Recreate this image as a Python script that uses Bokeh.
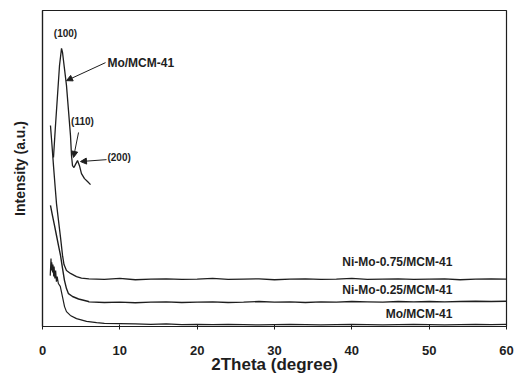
from bokeh.plotting import figure
from bokeh.models import Range1d, FixedTicker, Arrow, NormalHead, Label
from bokeh.embed import file_html
from bokeh.resources import INLINE

# ---- data (2Theta in degrees, intensity in arbitrary units) ----
x_tick_values = [0, 10, 20, 30, 40, 50, 60]

flat_x = [6, 8, 10, 12, 14, 16, 18, 20, 22, 24, 26, 28, 30, 32, 34, 36, 38, 40,
          42, 44, 46, 48, 50, 52, 54, 56, 58, 60]

nimo075_head_x = [1.03, 1.23, 1.42, 1.62, 1.81, 2.07, 2.33, 2.59, 2.78, 3.10, 3.62, 4.40, 5.04]
nimo075_head_y = [63.6, 57.3, 50.9, 44.6, 38.9, 33.5, 28.2, 22.5, 19.6, 17.7, 16.8, 15.8, 15.3]
nimo075_flat_y = [15.1, 14.9, 15.2, 14.8, 15.0, 15.1, 14.9, 15.0, 15.2, 14.9, 15.0, 15.1, 14.8, 15.0,
                  15.1, 14.9, 15.0, 15.2, 14.9, 15.0, 15.1, 14.9, 15.0, 15.1, 14.8, 15.0, 15.1, 15.0]

nimo025_head_x = [1.03, 1.29, 1.55, 1.81, 2.07, 2.33, 2.59, 2.84, 3.10, 3.36, 3.88, 4.66, 5.95]
nimo025_head_y = [38.3, 35.1, 32.0, 28.8, 25.6, 22.5, 18.4, 14.6, 12.0, 10.4, 9.5, 8.7, 7.9]
nimo025_flat_y = [7.8, 7.6, 7.7, 7.5, 7.7, 7.8, 7.6, 7.7, 7.8, 7.6, 7.7, 7.9, 7.7, 7.8,
                  7.6, 7.8, 7.7, 7.9, 7.8, 7.7, 7.9, 7.8, 7.9, 7.8, 7.9, 8.0, 7.9, 8.0]

mo_head_x = [1.00, 1.10, 1.15, 1.20, 1.30, 1.35, 1.45, 1.50, 1.60, 1.70, 1.80, 1.90, 2.05,
             2.30, 2.60, 2.85, 3.10, 3.60, 4.40, 5.70]
mo_head_y = [16.1, 21.5, 17.7, 20.3, 17.1, 19.6, 15.8, 19.0, 15.2, 17.7, 14.2, 15.8, 13.6,
             12.7, 9.2, 6.3, 4.7, 3.5, 2.5, 1.6]
mo_flat_y = [1.2, 1.0, 0.9, 0.8, 0.7, 0.8, 0.6, 0.7, 0.6, 0.7, 0.6, 0.5, 0.6, 0.7,
             0.6, 0.5, 0.6, 0.7, 0.6, 0.5, 0.6, 0.7, 0.6, 0.5, 0.6, 0.7, 0.6, 0.7]

# small-angle pattern of Mo/MCM-41 with (100), (110), (200) reflections
mo_sa_x = [1.42, 1.68, 1.94, 2.20, 2.46, 2.59, 2.84, 3.10, 3.36, 3.62, 3.75, 3.88, 4.07,
           4.27, 4.53, 4.78, 5.04, 5.43, 5.82, 6.21]
mo_sa_y = [53.5, 63.6, 73.1, 82.6, 88.0, 86.7, 81.6, 76.3, 68.4, 60.4, 54.1, 50.9, 50.3,
           51.3, 52.5, 50.9, 48.4, 46.8, 45.9, 44.9]

series_names = ["Ni-Mo-0.75/MCM-41", "Ni-Mo-0.25/MCM-41", "Mo/MCM-41"]
series_label_x = [53.0, 53.0, 53.0]
series_label_y = [20.3, 11.4, 4.1]

peak_labels = ["(100)", "(110)", "(200)"]
peak_label_x = [2.97, 5.17, 8.4]
peak_label_y = [92.7, 64.9, 53.5]
peak_label_align = ["center", "center", "left"]

# arrows: (x_start, y_start) -> (x_end, y_end)
arrow_x_start = [8.15, 4.66, 8.28]
arrow_y_start = [83.5, 61.4, 52.8]
arrow_x_end = [3.10, 4.01, 4.91]
arrow_y_end = [77.8, 53.5, 52.2]

sa_label = "Mo/MCM-41"
sa_label_x = 8.4
sa_label_y = 83.5

FONT = "Liberation Sans"
INK = "#1e1e1e"

p = figure(width=515, height=378, output_backend="svg", toolbar_location=None,
           x_range=Range1d(0, 60), y_range=Range1d(0, 100),
           min_border_left=42, min_border_right=9, min_border_top=10, min_border_bottom=52)
p.background_fill_color = "white"
p.border_fill_color = "white"
p.grid.visible = False
p.outline_line_color = INK
p.outline_line_width = 1.2

# curves
p.line(nimo075_head_x + flat_x, nimo075_head_y + nimo075_flat_y, line_color=INK, line_width=1.3)
p.line(nimo025_head_x + flat_x, nimo025_head_y + nimo025_flat_y, line_color=INK, line_width=1.4)
p.line(mo_head_x + [7] + flat_x[1:], mo_head_y + mo_flat_y, line_color=INK, line_width=1.2)
p.line(mo_sa_x, mo_sa_y, line_color=INK, line_width=1.3)

# axes
xa = p.xaxis[0]
xa.ticker = FixedTicker(ticks=x_tick_values)
xa.minor_tick_line_color = None
xa.major_tick_in = 2
xa.major_tick_out = 3
xa.axis_line_color = INK
xa.axis_line_width = 1.2
xa.major_tick_line_color = INK
xa.major_label_text_font = FONT
xa.major_label_text_font_style = "bold"
xa.major_label_text_font_size = "13px"
xa.major_label_text_color = INK
xa.major_label_standoff = 16
xa.axis_label = "2Theta (degree)"
xa.axis_label_text_font = FONT
xa.axis_label_text_font_style = "bold"
xa.axis_label_text_font_size = "17px"
xa.axis_label_text_color = INK
xa.axis_label_standoff = -3

ya = p.yaxis[0]
ya.ticker = FixedTicker(ticks=[])
ya.minor_tick_line_color = None
ya.major_tick_line_color = None
ya.axis_line_color = INK
ya.axis_line_width = 1.2
ya.axis_label = "Intensity (a.u.)"
ya.axis_label_text_font = FONT
ya.axis_label_text_font_style = "bold"
ya.axis_label_text_font_size = "14px"
ya.axis_label_text_color = INK
ya.axis_label_standoff = 15

# series labels
for name, lx, ly in zip(series_names, series_label_x, series_label_y):
    p.add_layout(Label(x=lx, y=ly, text=name, text_align="right", text_baseline="middle",
                       text_font=FONT, text_font_style="bold", text_font_size="12px",
                       text_color=INK))

# peak labels
for name, lx, ly, al in zip(peak_labels, peak_label_x, peak_label_y, peak_label_align):
    p.add_layout(Label(x=lx, y=ly, text=name, text_align=al, text_baseline="middle",
                       text_font=FONT, text_font_style="bold", text_font_size="10px",
                       text_color=INK))

p.add_layout(Label(x=sa_label_x, y=sa_label_y, text=sa_label, text_align="left",
                   text_baseline="middle", text_font=FONT, text_font_style="bold",
                   text_font_size="12px", text_color=INK))

for xs, ys, xe, ye in zip(arrow_x_start, arrow_y_start, arrow_x_end, arrow_y_end):
    p.add_layout(Arrow(end=NormalHead(size=6, fill_color=INK, line_color=INK, line_width=1),
                       x_start=xs, y_start=ys, x_end=xe, y_end=ye,
                       line_color=INK, line_width=1))

open("out.html", "w").write(file_html(p, INLINE))
